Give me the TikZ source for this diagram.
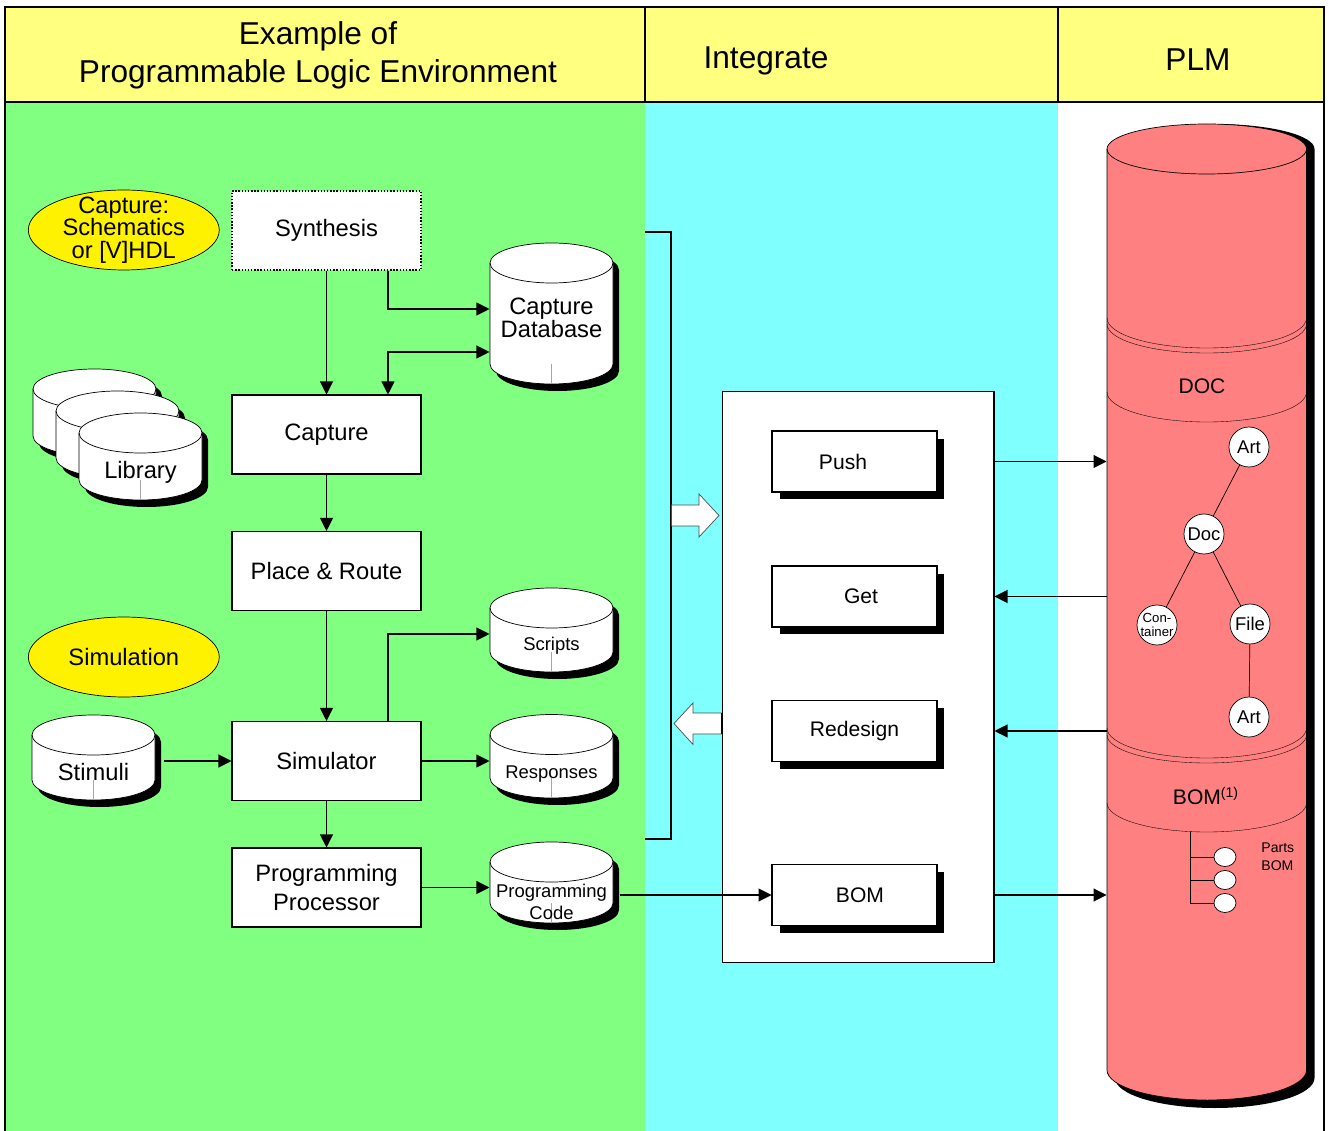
\documentclass[tikz,border=0pt]{standalone}
\usepackage{fontspec}
\setmainfont{Liberation Sans}
\usetikzlibrary{arrows.meta,shapes.geometric,shadows}
\definecolor{hdryellow}{RGB}{255,255,128}
\definecolor{envgreen}{RGB}{128,255,128}
\definecolor{intcyan}{RGB}{128,255,255}
\definecolor{plmred}{RGB}{255,128,128}
\newcommand{\dbcyl}[8]{%
  \pgfmathsetmacro{\cylrx}{#4/2}%
  \pgfmathsetmacro{\cylw}{#4*0.02}%
  \pgfmathsetmacro{\cylh}{#5*0.02}%
  \fill (#2+6,-#3-7) -- ++(0,-#5) arc[start angle=180,end angle=360,x radius=\cylrx,y radius=20]
    -- ++(0,#5) arc[start angle=0,end angle=180,x radius=\cylrx,y radius=20] -- cycle;
  \filldraw[fill=white,thin] (#2,-#3) -- ++(0,-#5) arc[start angle=180,end angle=360,x radius=\cylrx,y radius=20]
    -- ++(0,#5) arc[start angle=0,end angle=180,x radius=\cylrx,y radius=20] -- cycle;
  \draw[thin] (#2,-#3) arc[start angle=180,end angle=360,x radius=\cylrx,y radius=20];
  \draw[black!35,very thin] (#2+\cylrx,-#3-#5) -- ++(0,-20);
  \node[inner sep=0pt,minimum width=\cylw cm,minimum height=\cylh cm] (#1) at (#2+\cylrx,-#3-#5/2) {};
  \node[align=center,font=#7] (#1-txt) at ([yshift=#6]#1.center) {#8};
}

\begin{document}
\begin{tikzpicture}[x=0.02cm,y=0.02cm,semithick,
  proc/.style={draw,fill=white,minimum width=3.78cm,minimum height=1.58cm,inner sep=0pt,align=center,font=\fontsize{13.5}{16}\selectfont},
  tool/.style={draw,fill=white,minimum width=3.3cm,minimum height=1.22cm,inner sep=0pt,font=\fontsize{12}{14}\selectfont,
    drop shadow={shadow xshift=0.15cm,shadow yshift=-0.15cm,opacity=1,fill=black}},
  oval/.style={ellipse,draw,thin,fill=yellow,minimum width=3.82cm,minimum height=1.6cm,inner sep=0pt,align=center,font=\fontsize{13.5}{12.8}\selectfont},
  item/.style={circle,draw,thin,fill=white,minimum size=0.8cm,inner sep=0pt,font=\fontsize{10.5}{12}\selectfont},
  part/.style={ellipse,draw,thin,fill=white,minimum width=0.44cm,minimum height=0.38cm,inner sep=0pt},
  hollow/.style={draw=black!70,thin,fill=white},
  arr/.style={-{Triangle[length=0.26cm,width=0.26cm]}},
  arrs/.style={{Triangle[length=0.26cm,width=0.26cm]}-{Triangle[length=0.26cm,width=0.26cm]}},
  hdr/.style={align=center,font=\fontsize{18}{21.6}\selectfont}]
\useasboundingbox (0,0) rectangle (1329,-1131);

% columns and header
\fill[envgreen] (5,-102) rectangle (645,-1131);
\fill[intcyan] (645,-102) rectangle (1058,-1131);
\fill[hdryellow] (5,-7) rectangle (1324,-102);
\draw (5,-1135) -- (5,-7) -- (1324,-7) -- (1324,-1135);
\draw (5,-102) -- (1324,-102);
\draw (645,-7) -- (645,-102);
\draw (1058,-7) -- (1058,-102);
\node[hdr] (hdrenv) at (318,-55) {Example of\\Programmable Logic Environment};
\node[hdr] (hdrint) at (766,-61) {Integrate};
\node[hdr] (hdrplm) at (1198,-60) {PLM};

% programmable logic flow
\node[oval,inner ysep=-0.11cm] (captureoval) at (123.8,-230) {Capture:\\Schematics\\or [V]HDL};
\node[oval] (simoval) at (123.8,-657) {Simulation};
\node[proc,densely dotted,line width=0.8pt] (synth) at (326.5,-230.5) {Synthesis};
\node[proc] (capture) at (326.5,-434.5) {Capture};
\node[proc] (placeroute) at (326.5,-571) {Place \& Route};
\node[proc] (simulator) at (326.5,-761) {Simulator};
\node[proc] (progproc) at (326.5,-887.5) {Programming\\Processor};

\dbcyl{capdb}{490}{263}{123}{101}{-0.09cm}{\fontsize{13.5}{13}\selectfont}{Capture\\Database}
\dbcyl{lib1}{33}{389}{123}{47}{0cm}{\normalsize}{}
\dbcyl{lib2}{56}{411}{123}{47}{0cm}{\normalsize}{}
\dbcyl{library}{79}{433}{123}{47}{-0.31cm}{\fontsize{13.5}{16}\selectfont}{Library}
\dbcyl{scripts}{490}{608}{123}{44}{-0.32cm}{\fontsize{10.5}{12.5}\selectfont}{Scripts}
\dbcyl{stimuli}{32}{735}{123}{45}{-0.29cm}{\fontsize{13.5}{16}\selectfont}{Stimuli}
\dbcyl{responses}{490}{734.5}{123}{43.5}{-0.36cm}{\fontsize{10.5}{12.5}\selectfont}{Responses}
\dbcyl{progcode}{490}{862}{123}{41}{-0.39cm}{\fontsize{10.5}{12.5}\selectfont}{Programming\\Code}

\draw[arr] (synth.south) -- (capture.north);
\draw[arr] ([xshift=1.23cm]synth.south) |- ([yshift=0.09cm]capdb.west);
\draw[arrs] ([yshift=-0.77cm]capdb.west) -| ([xshift=1.23cm]capture.north);
\draw[arr] (capture) -- (placeroute);
\draw[arr] (placeroute) -- (simulator);
\draw[arr] ([xshift=1.23cm]simulator.north) |- ([yshift=-0.08cm]scripts.west);
\draw[arr] ([xshift=0.16cm]stimuli.east |- simulator.west) -- (simulator.west);
\draw[arr] (simulator.east) -- (simulator.east -| responses.west);
\draw[arr] (simulator) -- (progproc);
\draw[arr] (progproc.east) -- (progproc.east -| progcode.west);

% integrate
\draw (645,-232) -- (671,-232) -- (671,-839) -- (645,-839);
\node[draw,fill=white,minimum width=5.44cm,minimum height=11.44cm,inner sep=0pt] (integ) at (858,-677) {};
\draw[hollow] (671.5,-505) -- (699,-505) -- (699,-494) -- (719,-515.5) -- (699,-537) -- (699,-526) -- (671.5,-526) -- cycle;
\draw[hollow] (722,-713) -- (693,-713) -- (693,-703) -- (674,-723.5) -- (693,-744.5) -- (693,-734) -- (722,-734);
\draw[line width=1.2pt] (722,-713) -- (722,-734);
\node[tool] (push) at (854.5,-461.5) {Push\hspace*{0.46cm}};
\node[tool] (get) at (854.5,-596.5) {\hspace*{0.26cm}Get};
\node[tool] (redesign) at (854.5,-731) {Redesign};
\node[tool] (bom) at (854.5,-895) {\hspace*{0.22cm}BOM};
\draw[arr] ([xshift=0.12cm]progcode.east |- bom.west) -- (bom.west);

% PLM vault
\fill (1115,-149) -- (1115,-1078) arc[start angle=180,end angle=360,x radius=99.75,y radius=30]
  -- (1314.5,-149) arc[start angle=0,end angle=180,x radius=99.75,y radius=25] -- cycle;
\filldraw[fill=plmred,thin] (1107,-149) -- (1107,-1070) arc[start angle=180,end angle=360,x radius=99.75,y radius=30]
  -- (1306.5,-149) arc[start angle=0,end angle=180,x radius=99.75,y radius=25] -- cycle;
\draw[thin] (1107,-149) arc[start angle=180,end angle=360,x radius=99.75,y radius=25];
\draw[very thin] (1107,-318) arc[start angle=180,end angle=360,x radius=99.75,y radius=30];
\draw[very thin] (1107,-324) arc[start angle=180,end angle=360,x radius=99.75,y radius=29];
\draw[very thin] (1107,-392) arc[start angle=180,end angle=360,x radius=99.75,y radius=30];
\draw[very thin] (1107,-728) arc[start angle=180,end angle=360,x radius=99.75,y radius=30];
\draw[very thin] (1107,-735) arc[start angle=180,end angle=360,x radius=99.75,y radius=28];
\draw[very thin] (1107,-803) arc[start angle=180,end angle=360,x radius=99.75,y radius=29];
\draw[black!35,very thin] (1207,-1070) -- (1207,-1100);
\node[inner sep=0pt,minimum width=3.99cm,minimum height=18.42cm] (plm) at (1206.75,-609.5) {};
\node[font=\fontsize{12}{14}\selectfont] (doclabel) at (1202,-386) {DOC};
\node[font=\fontsize{12}{14}\selectfont] (bomlabel) at (1206,-796) {BOM\textsuperscript{(1)}};

\node[item] (art1) at (1249,-447) {Art};
\node[item] (doc) at (1204,-534) {Doc};
\node[item,font=\fontsize{7.5}{7.5}\selectfont,align=center] (cont) at (1157,-625) {Con-\\tainer};
\node[item] (file) at (1250,-624) {File};
\node[item] (art2) at (1249,-717) {Art};
\draw[thin] (art1) -- (doc) (doc) -- (cont) (doc) -- (file) (file) -- (art2);

\coordinate (bomroot) at (1190,-832);
\node[part] (p1) at (1225,-857) {};
\node[part] (p2) at (1225,-880) {};
\node[part] (p3) at (1225,-903) {};
\draw[thin] (bomroot) |- (p3.west);
\draw[thin] (bomroot |- p1.west) -- (p1.west);
\draw[thin] (bomroot |- p2.west) -- (p2.west);
\node[anchor=west,align=left,font=\fontsize{8}{10}\selectfont] (partsbom) at (1255,-857) {Parts\\BOM};

\draw[arr] (integ.east |- push.east) -- (plm.west |- push.east);
\draw[arr] (plm.west |- get.east) -- (integ.east |- get.east);
\draw[arr] (plm.west |- redesign.east) -- (integ.east |- redesign.east);
\draw[arr] (integ.east |- bom.east) -- (plm.west |- bom.east);
\end{tikzpicture}
\end{document}
